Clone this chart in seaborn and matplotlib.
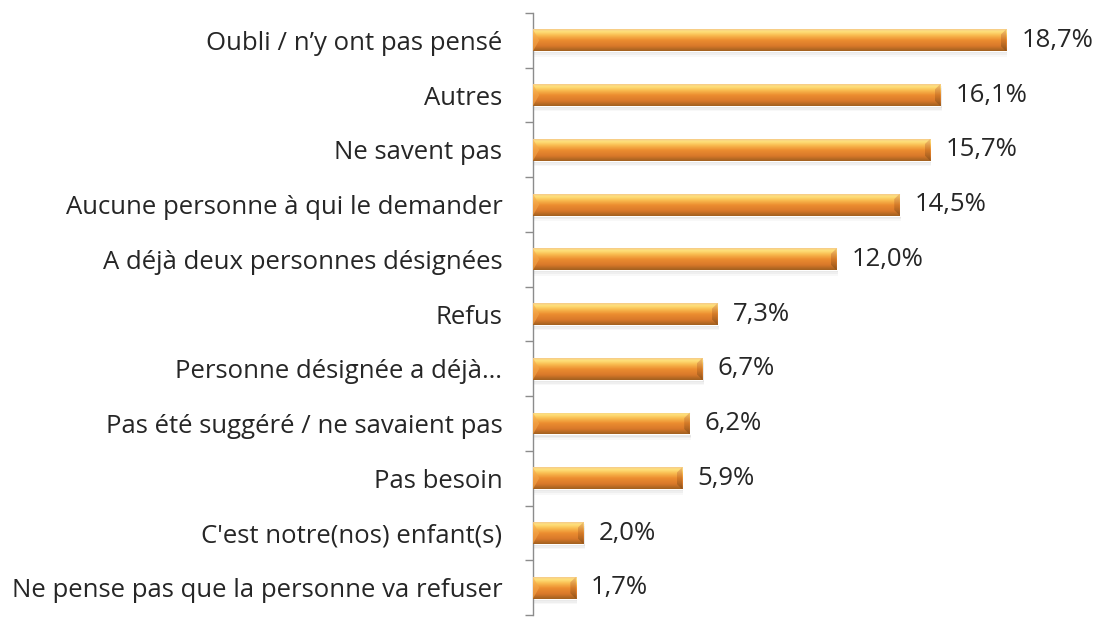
import numpy as np
import pandas as pd
import seaborn as sns
import matplotlib.pyplot as plt
from matplotlib.patches import Rectangle, Polygon
from matplotlib.colors import LinearSegmentedColormap

categories = [
    "Oubli / n\u2019y ont pas pensé",
    "Autres",
    "Ne savent pas",
    "Aucune personne à qui le demander",
    "A déjà deux personnes désignées",
    "Refus",
    "Personne désignée a déjà…",
    "Pas été suggéré / ne savaient pas",
    "Pas besoin",
    "C'est notre(nos) enfant(s)",
    "Ne pense pas que la personne va refuser",
]
values = [18.7, 16.1, 15.7, 14.5, 12.0, 7.3, 6.7, 6.2, 5.9, 2.0, 1.7]

data = pd.DataFrame({"cat": categories, "val": values})

sns.set_style("white")
plt.rcParams["font.family"] = ["Open Sans", "DejaVu Sans"]

fig = plt.figure(figsize=(11.01, 6.17), dpi=100)
ax = fig.add_axes([0.484, 0.003, 0.516, 0.976])

sns.barplot(data=data, x="val", y="cat", orient="h", color="#E8892E",
            width=0.4, ax=ax, order=categories)

# vertical gradient for cylinder look
body = LinearSegmentedColormap.from_list("body", [
    (0.0, "#F5C98A"), (0.1, "#FFE37C"), (0.28, "#F9BC50"),
    (0.5, "#EC8D30"), (0.78, "#D8782A"), (1.0, "#A0601F")])
cap = LinearSegmentedColormap.from_list("cap", [
    (0.0, "#F0C070"), (0.5, "#D27828"), (1.0, "#8E521C")])
grad = np.linspace(0, 1, 64).reshape(-1, 1)

for p in list(ax.patches):
    x0, y0 = p.get_x(), p.get_y()
    w, h = p.get_width(), p.get_height()
    # soft shadow underneath
    for k, a in [(0.1, 0.05), (0.07, 0.07), (0.04, 0.09)]:
        ax.add_patch(Rectangle((x0 + 0.05, y0 + k), w, h, color="#808080",
                               alpha=a, lw=0, zorder=1))
    im = ax.imshow(grad, cmap=body, aspect="auto", extent=(x0, x0 + w, y0 + h, y0),
                   zorder=3, interpolation="bicubic")
    im.set_clip_path(p)
    # bevelled right end
    d = 0.22
    bev = Polygon([(x0 + w - d, y0 + h * 0.25), (x0 + w, y0), (x0 + w, y0 + h),
                   (x0 + w - d, y0 + h * 0.75)], closed=True, transform=ax.transData)
    ax.add_patch(bev)
    bev.set_visible(False)
    im2 = ax.imshow(grad, cmap=cap, aspect="auto",
                    extent=(x0 + w - d, x0 + w, y0 + h, y0), zorder=4,
                    interpolation="bicubic", alpha=0.9)
    im2.set_clip_path(bev)
    # lighter left bevel
    lb = Polygon([(x0, y0), (x0 + 0.25, y0 + h * 0.5), (x0, y0 + h)], closed=True,
                 color="#F4A84C", alpha=0.6, lw=0, zorder=4)
    ax.add_patch(lb)
    p.set_zorder(2)

for i, v in enumerate(values):
    ax.text(v + 0.6, i, f"{v:.1f}%".replace(".", ","), va="center", ha="left",
            fontsize=18.5, color="#262626")

ax.set_xlim(0, 22.45)
ax.set_ylim(len(categories) - 0.5, -0.5)
ax.set_xlabel("")
ax.set_ylabel("")
ax.set_xticks([])
ax.set_yticks(range(len(categories)))
ax.set_yticklabels(categories, fontsize=18.5, color="#262626")
ax.set_yticks(np.arange(-0.5, len(categories), 1.0), minor=True)
ax.tick_params(axis="y", which="major", length=0, pad=22)
ax.tick_params(axis="y", which="minor", length=6, color="#8C8C8C", width=1, left=True)

for s in ["top", "right", "bottom"]:
    ax.spines[s].set_visible(False)
ax.spines["left"].set_color("#8C8C8C")
ax.spines["left"].set_linewidth(1)

fig.savefig("out.png", dpi=100)
